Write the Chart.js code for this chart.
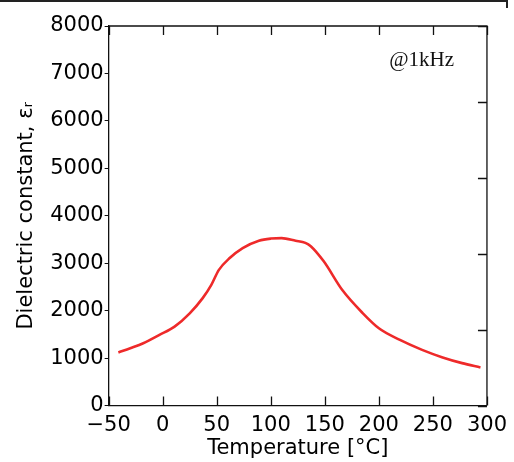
<!DOCTYPE html>
<html>
<head>
<meta charset="utf-8">
<script src="https://cdn.jsdelivr.net/npm/chart.js@4.4.1/dist/chart.umd.min.js"></script>
<style>
  html, body { margin: 0; padding: 0; background: #fff; }
  #wrap { position: relative; width: 514px; height: 462px; }
  #edge { position: absolute; left: 0; top: 0; width: 508px; height: 8px;
          border-top: 2px solid #222; border-right: 2px solid #222; box-sizing: border-box; }
</style>
</head>
<body>
<div id="wrap">
  <canvas id="epsChart" width="514" height="462"></canvas>
  <div id="edge"></div>
</div>
<script>
// data
const temps = [-41, -30, -18, -3, 11, 25, 37, 45, 52, 62, 74, 89, 100, 110, 123, 132, 137, 149, 166, 185, 200, 219, 240, 259, 277, 294];
const epsValues = [1120, 1210, 1315, 1490, 1665, 1945, 2265, 2545, 2860, 3110, 3320, 3475, 3520, 3530, 3475, 3430, 3360, 3040, 2440, 1950, 1630, 1390, 1175, 1015, 895, 805];
const xTicks = [-50, 0, 50, 100, 150, 200, 250, 300];
const yTicks = [0, 1000, 2000, 3000, 4000, 5000, 6000, 7000, 8000];

const points = temps.map((t, i) => ({ x: t, y: epsValues[i] }));

// inward ticks on all four sides + the note text
const framePlugin = {
  id: 'frame',
  afterDraw(chart) {
    const { ctx, chartArea: a, scales } = chart;
    ctx.save();
    ctx.strokeStyle = '#111';
    ctx.lineWidth = 1.3;
    ctx.beginPath();
    ctx.moveTo(a.left, a.top);
    ctx.lineTo(a.right, a.top);
    ctx.lineTo(a.right, a.bottom);
    xTicks.forEach(v => {
      const px = Math.round(scales.x.getPixelForValue(v)) + 0.5;
      ctx.moveTo(px, a.bottom);
      ctx.lineTo(px, a.bottom - 9);
      ctx.moveTo(px, a.top);
      ctx.lineTo(px, a.top + 9);
    });
    for (let i = 0; i <= 5; i++) {
      const py = Math.round(scales.y2.getPixelForValue(i)) + 0.5;
      ctx.moveTo(a.right, py);
      ctx.lineTo(a.right - 9, py);
    }
    ctx.stroke();

    ctx.fillStyle = '#111';
    ctx.font = '21px "Liberation Serif", serif';
    ctx.textAlign = 'right';
    ctx.textBaseline = 'alphabetic';
    ctx.fillText('@1kHz', a.right - 33, a.top + 40);
    ctx.restore();
  }
};

new Chart(document.getElementById('epsChart'), {
  type: 'line',
  data: {
    datasets: [{
      data: points,
      borderColor: '#ee2a2a',
      borderWidth: 2.6,
      pointRadius: 0,
      tension: 0.35,
      cubicInterpolationMode: 'monotone',
      fill: false
    }]
  },
  options: {
    responsive: false,
    animation: false,
    layout: { padding: { left: 14, right: 24, top: 26, bottom: 1 } },
    plugins: { legend: { display: false }, tooltip: { enabled: false } },
    scales: {
      x: {
        type: 'linear',
        min: -50,
        max: 300,
        afterBuildTicks: s => { s.ticks = xTicks.map(v => ({ value: v })); },
        grid: { display: false, drawTicks: false },
        border: { display: true, color: '#111', width: 1.3 },
        ticks: {
          color: '#000',
          font: { family: 'DejaVu Sans', size: 21 },
          padding: 7,
          maxRotation: 0,
          callback: v => String(v).replace('-', '\u2212')
        },
        title: {
          display: true,
          text: 'Temperature [°C]',
          color: '#000',
          font: { family: 'DejaVu Sans', size: 21 },
          padding: { top: -9, bottom: 0 }
        }
      },
      y: {
        min: 0,
        max: 8000,
        afterBuildTicks: s => { s.ticks = yTicks.map(v => ({ value: v })); },
        grid: { drawOnChartArea: false, tickLength: 4, color: '#111', lineWidth: 1 },
        border: { display: true, color: '#111', width: 1.3 },
        ticks: {
          color: '#000',
          font: { family: 'DejaVu Sans', size: 21 },
          padding: 1,
          callback: v => String(v)
        },
        title: {
          display: true,
          text: 'Dielectric constant, εᵣ',
          color: '#000',
          font: { family: 'DejaVu Sans', size: 21 },
          padding: { top: 0, bottom: 10 }
        }
      },
      y2: {
        display: false,
        position: 'right',
        min: 0,
        max: 5
      }
    }
  },
  plugins: [framePlugin]
});
</script>
</body>
</html>
